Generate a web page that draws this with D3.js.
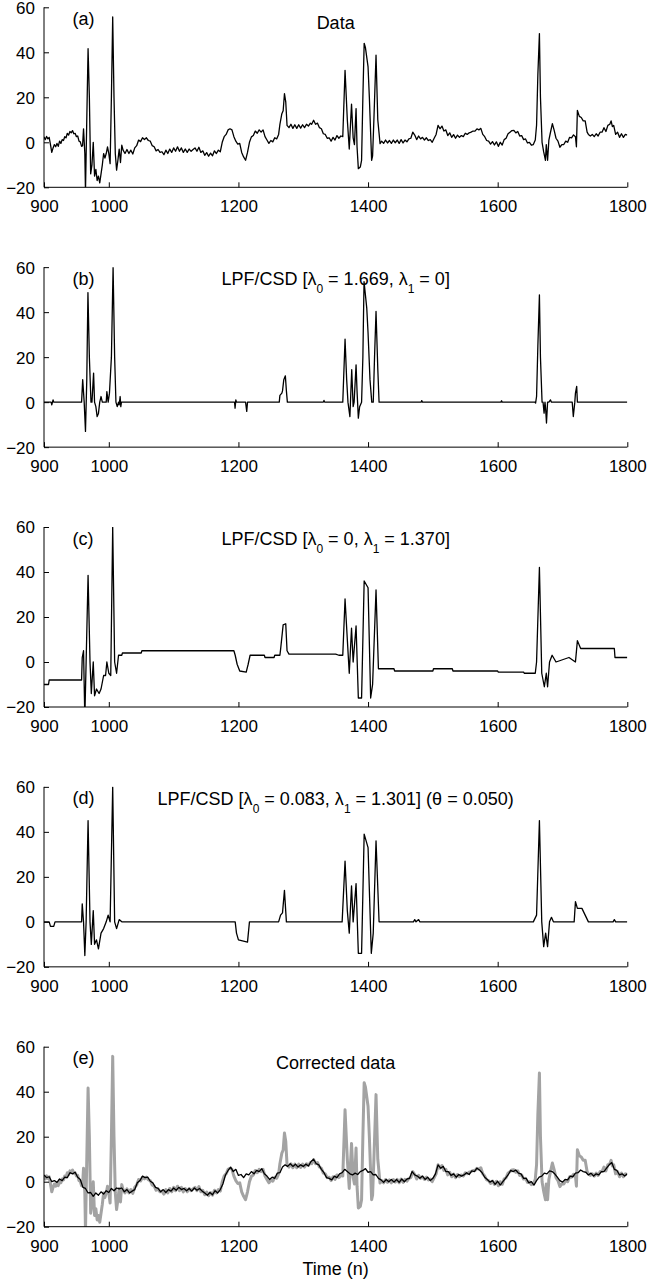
<!DOCTYPE html>
<html>
<head>
<meta charset="utf-8">
<script src="https://cdn.jsdelivr.net/npm/d3@7"></script>
<style>
  body { margin: 0; background: #fff; }
  text { font-family: "Liberation Sans", Arial, Helvetica, sans-serif; }
</style>
</head>
<body>
<div id="chart"></div>
<script>
// tick values
var x_ticks = [900, 1000, 1200, 1400, 1600, 1800]
var y_ticks = [-20, 0, 20, 40, 60]

// (a) raw data, [n, value]
var data_raw = [[900,2.4],[902,1.2],[904,2.6],[906,1.5],[908,2.2],[910,-1],[912,-4.5],[914,-2.5],[916,-1],[918,-2],
 [920,-0.5],[922,-1.8],[924,0.5],[926,-0.5],[928,1.2],[930,0.8],[932,2.5],[934,2],[936,4],[938,3.2],[940,4.8],[942,4.2],
 [944,5.2],[946,3.8],[948,4],[950,2.5],[952,2.8],[954,0.5],[956,0.2],[958,-1.8],[959.5,-1.5],[961,6],[963,-5],[964,-22],
 [966,10],[968,41.6],[970,20],[972,-14],[974,-10],[976,0],[978,-15],[980,-12],[982,-17],[984,-15],[986,-18],[988,-14],
 [990,-10],[992,-5],[994,-7],[996,-5],[998,-2],[1000,-5],[1002,-9.5],[1004,20],[1006,55.7],[1008,20],[1010,-5],
 [1012,-12.4],[1014,-8],[1016,-3],[1018,-9],[1020,-1.3],[1022,-3.5],[1025,-5],[1028,-3.2],[1031,-5],[1034,-3.5],
 [1037,-5.2],[1040,-2.5],[1043,-1.5],[1046,1],[1049,0.3],[1052,2],[1055,1.2],[1058,2],[1061,0.8],[1064,0.5],[1067,-1.5],
 [1070,-2],[1073,-3.8],[1076,-3.2],[1079,-4.5],[1082,-4.2],[1085,-5.5],[1088,-3.5],[1091,-5],[1094,-3],[1097,-4.5],
 [1100,-2.5],[1103,-4],[1106,-2],[1109,-4],[1112,-2.5],[1115,-4.5],[1118,-3],[1121,-4.5],[1124,-3],[1127,-4],[1130,-3.2],
 [1133,-2.5],[1136,-4],[1139,-2.2],[1142,-4.5],[1145,-3.8],[1148,-5.8],[1151,-4.6],[1154,-6.2],[1157,-4.8],[1160,-6],
 [1163,-3.8],[1166,-5],[1169,-3.5],[1172,-4.2],[1175,0],[1178,2.5],[1181,3.5],[1184,5.5],[1187,6],[1190,5.5],[1193,2.5],
 [1196,0.5],[1199,-0.8],[1202,-0.5],[1205,-4.5],[1208,-6.5],[1211,-8],[1214,-4.5],[1217,0],[1220,2.4],[1223,3],[1226,5],
 [1229,4],[1232,5.5],[1235,4.5],[1238,5.5],[1241,2.5],[1244,1],[1247,-0.5],[1250,0.8],[1253,0.2],[1256,2],[1259,1.5],
 [1262,3.5],[1264,8],[1267,12.7],[1269,14],[1271,21.6],[1273,18],[1275,7.5],[1278,6.5],[1281,8],[1284,6.2],[1287,7.8],
 [1290,6.2],[1293,7.8],[1296,6.3],[1299,7.8],[1302,6.5],[1305,8],[1308,7.2],[1311,8.5],[1313,8],[1316,9.8],[1319,8],
 [1322,8.5],[1325,6.5],[1328,6],[1331,3.8],[1334,3.5],[1337,1.8],[1340,2],[1343,0.5],[1346,2.2],[1349,1],[1352,3],
 [1355,1.8],[1358,2.8],[1361,2.5],[1364.5,32],[1368,10],[1371,-3],[1374.5,17],[1377,2],[1379,-1],[1381.5,15],[1383,-2],
 [1385,-11.7],[1388,-11],[1390,-8],[1392,20],[1394,44],[1396,42],[1400,33.5],[1402,20],[1405.5,-8],[1407,-6],[1409,10],
 [1412.3,38.7],[1415,10],[1418.5,-0.6],[1421,0.5],[1424,-0.5],[1427,1],[1430,-0.3],[1433,0.8],[1436,-0.5],[1439,1],
 [1442,-0.2],[1445,1],[1448,-0.5],[1451,1.2],[1454,-0.3],[1457,1],[1460,0.2],[1463,1.5],[1466,1.8],[1469,4.5],[1472,3.2],
 [1475,1.2],[1478,2.8],[1481,1.5],[1484,2.2],[1487,1],[1490,2],[1493,0.8],[1496,1.2],[1499,0],[1502,1.8],[1505,3.5],
 [1508,7.5],[1511,6],[1514,7.2],[1517,5],[1520,5.5],[1523,3],[1526,4.2],[1529,2.2],[1532,3.4],[1535,1.8],[1538,3.2],
 [1541,2.2],[1544,3],[1547,2.5],[1550,4],[1553,3.5],[1556,4.2],[1559,4.5],[1562,5],[1565,5],[1568,6],[1571,5.5],
 [1574,6.2],[1577,3.5],[1580,2.5],[1583,0.8],[1586,0.5],[1589,-0.8],[1592,0.3],[1595,-1.2],[1598,0.2],[1601,-1.8],
 [1604,0],[1607,-1.2],[1610,1.2],[1613,1.8],[1616,3.8],[1619,4.5],[1622,5.2],[1625,5.3],[1628,4.2],[1631,4.8],[1634,2.8],
 [1637,3],[1640,1.2],[1643,1.5],[1646,-0.3],[1649,0],[1652,-1.3],[1655,-1],[1658,1],[1660,7.6],[1662,30],[1664.4,48.3],
 [1666,20],[1668.5,0],[1671,-4.3],[1673.7,-8],[1675,-1],[1677,-8],[1679,1],[1681,3.8],[1684.4,8.3],[1687,5.5],[1690,1.8],
 [1693,0.5],[1696,-2.2],[1699,-1],[1702,-1],[1705,0.5],[1708,0],[1711,2.2],[1714,2],[1717,3.3],[1720,2.5],[1721.5,-2],
 [1723,14.2],[1726,11.5],[1729,11],[1732,9.5],[1735,9.5],[1738,4.5],[1740,3.5],[1743,2.8],[1746,3.5],[1749,2.5],
 [1752,3.8],[1755,2.8],[1758,4.5],[1761,4.5],[1764,6.5],[1767,4.8],[1770,7.5],[1773,8],[1775,9.5],[1777,7],[1779,7.5],
 [1782,3.5],[1785,4.5],[1788,2.2],[1791,3.8],[1794,2.2],[1797,3.5],[1800,3.2]]

// (b) LPF/CSD, lambda1 = 0
var data_b = [[900,0],[911,0],[912,-1.2],[914,1],[915,0],[958,0],[959.7,10],[962,0],[964,-13],[966,10],[967.8,48.7],
 [970,20],[972.5,0],[974,0],[976.5,12.9],[978,0],[980,-2],[982,-6.4],[984,-5],[986,0],[988,2.5],[990,0],[996,0],
 [997,4.7],[999,0],[1001,4],[1004,20],[1006.6,60],[1009,20],[1011,0],[1013,-2],[1015,0],[1016,-1.2],[1017.5,2.5],
 [1018.5,-2],[1019.5,0],[1194,0],[1194.8,-2.7],[1196,1],[1197,0],[1211,0],[1212.8,-4.1],[1214,0],[1263,0],[1264,3],
 [1267,4],[1268,5],[1270,10],[1272.4,11.7],[1274,5],[1275.5,0],[1331,0],[1332,0.8],[1333,0],[1361,0],[1364.5,28],
 [1367,10],[1369,0],[1372,-6.4],[1374.8,14.4],[1377,-2],[1378.5,0],[1381.5,16.6],[1383,5],[1385,-7.1],[1387,-2],
 [1390,0],[1392,20],[1393.8,53.6],[1398,41.8],[1400,30.7],[1403,10],[1405.7,0],[1408,0],[1410,20],[1412.3,40.3],
 [1415,15],[1417,0],[1482,0],[1482.8,0.7],[1484,0],[1605,0],[1606,0.6],[1607,0],[1657.6,0],[1658.5,-0.4],[1660,2.5],
 [1662,25],[1664.4,47.7],[1666,20],[1668.5,0],[1670,0],[1671.6,-4.9],[1673,0],[1674,-3],[1675.3,-9.3],[1677,0],
 [1679,0],[1681.5,1],[1683,0],[1715,0],[1716.7,-6.4],[1719,0],[1720,4],[1721.9,7],[1723,0],[1800,0]]

// (c) LPF/CSD, lambda0 = 0
var data_c = [[900,-10],[907,-10],[908,-8],[958,-8],[959,2],[961,5],[963,-25],[965,0],[968,38.5],[971,0],[973,-14],
 [976,0],[978,-15],[981,-12],[985,-14],[988,-12],[992,-6],[995,-6],[997,0],[1000,-5],[1003,-6],[1006,60],[1009,0],
 [1012,-5],[1015,3],[1020,3],[1021,4],[1050,4],[1051,5],[1193,5],[1195,3],[1198,-1],[1202,-4],[1212,-4.5],[1215,-1],
 [1218,3],[1240,3],[1241,2],[1255,2],[1256,3],[1264,3],[1265,5.5],[1269,16.5],[1273,17],[1275,5],[1278,3.5],[1350,3.5],
 [1355,3],[1361,3],[1364.5,28],[1368,10],[1371,-5],[1374.5,15],[1377,0],[1381.5,16],[1385,-16],[1390,-16],[1394,36],
 [1400,33],[1404,-16],[1407,-10],[1412.3,32],[1416,-3],[1440,-3],[1441,-4],[1500,-4],[1501,-3],[1530,-3],[1531,-4],
 [1600,-4],[1601,-4.5],[1640,-4.5],[1641,-5],[1658,-5],[1660,0],[1664.4,42],[1668,-5],[1672,-11],[1675,-5],[1677,-11],
 [1680,0],[1684,3],[1690,0],[1700,1],[1710,2],[1720,0],[1723,9.5],[1728,6],[1780,6],[1781,2],[1800,2]]

// (d) LPF/CSD, both lambdas
var data_d = [[900,0],[908,0],[910,-2],[915,-2],[917,0],[958,0],[959,8],[961,0],[963,-15],[965,0],[968,45],[971,0],
 [973,-10],[976,5],[978,-10],[981,-8],[984,-12],[988,-5],[992,-3],[996,0],[999,3],[1002,0],[1006,60],[1009,0],
 [1012,-3],[1016,1],[1020,0],[1195,0],[1197,-5],[1200,-8],[1214,-9],[1217,0],[1262,0],[1265,3],[1268,4],[1271,14],
 [1274,0],[1360,0],[1364.5,27],[1368,5],[1371,-5],[1374.5,16],[1377,0],[1381.5,17],[1385,-14],[1390,-14],[1394,39],
 [1400,33],[1405,-14],[1408,-5],[1412.3,36],[1417,0],[1470,0],[1472,1],[1474,0],[1478,1],[1480,0],[1655,0],[1660,3],
 [1664.4,45],[1668,0],[1671,-11],[1674,-5],[1677,-11],[1680,0],[1683,2],[1686,0],[1718,0],[1720,9],[1723,6],[1730,6],
 [1740,0],[1778,0],[1780,1],[1782,0],[1800,0]]

// (e) corrected data
var data_corr = [[900,3],[904,1.8],[908,2.2],[912,0],[916,0.5],[920,-0.3],[924,1.2],[928,0.5],[932,2],[936,1.8],
 [940,4],[944,3.5],[948,4.2],[952,2],[956,1],[960,-2.5],[964,-3],[968,-5],[972,-4.8],[976,-6.5],[980,-5],[984,-6],
 [988,-4.5],[992,-5.5],[996,-4],[1000,-4.8],[1004,-3],[1008,-4],[1012,-2.8],[1016,-3.2],[1020,-2.8],[1024,-4.5],
 [1028,-3.5],[1032,-5],[1036,-4.2],[1040,-3.5],[1044,-0.5],[1048,0.5],[1052,2.5],[1056,1.8],[1060,2],[1064,0.2],
 [1068,-0.5],[1072,-2.5],[1076,-3],[1080,-4.5],[1084,-3.5],[1088,-4.8],[1092,-3.5],[1096,-4.2],[1100,-2.8],[1104,-3.8],
 [1108,-2.5],[1112,-3.5],[1116,-3],[1120,-4],[1124,-3],[1128,-4.2],[1132,-2.8],[1136,-3.8],[1140,-3],[1144,-4.2],
 [1148,-5],[1152,-6],[1156,-4.8],[1160,-5.8],[1164,-4],[1168,-5],[1172,-3.5],[1176,-1],[1180,3],[1184,5],[1188,6.5],
 [1192,4.5],[1196,5.5],[1200,2.8],[1204,3.2],[1208,1.8],[1212,3.5],[1216,3],[1220,4.5],[1224,3.5],[1228,5],[1232,4.5],
 [1236,5.8],[1240,3.5],[1244,2.5],[1248,1],[1252,2],[1256,1.5],[1260,3.8],[1264,4],[1268,6.5],[1272,7.5],[1276,6.8],
 [1280,8],[1284,6.8],[1288,7.8],[1292,6.5],[1296,7.5],[1300,6.8],[1304,7.8],[1308,7],[1312,9],[1316,10],[1320,8],
 [1324,7.5],[1328,5.5],[1332,4],[1336,1.8],[1340,1.5],[1344,0.8],[1348,2.5],[1352,1.8],[1356,3.5],[1360,4],[1364,5.5],
 [1368,4.5],[1372,3.5],[1376,3],[1380,3.8],[1384,3.2],[1388,4.5],[1392,5],[1396,5.8],[1400,4.2],[1404,4.5],[1408,3],
 [1412,3.2],[1416,1.5],[1420,0.8],[1424,-0.3],[1428,1],[1432,0],[1436,1],[1440,-0.2],[1444,1],[1448,-0.3],[1452,1.2],
 [1456,0],[1460,1.2],[1464,1.5],[1468,4.5],[1472,3],[1476,2.5],[1480,1.5],[1484,2.5],[1488,1],[1492,2],[1496,0.5],
 [1500,1.5],[1504,3.5],[1508,7.5],[1512,6],[1516,6.8],[1520,4.5],[1524,4.5],[1528,2.8],[1532,3.5],[1536,2],[1540,3.2],
 [1544,2.5],[1548,3],[1552,4],[1556,3.2],[1560,4.8],[1564,4.5],[1568,6],[1572,5.2],[1576,4],[1580,2],[1584,1],
 [1588,-0.2],[1592,0.5],[1596,-1.2],[1600,0.2],[1604,-1.5],[1608,0],[1612,1.5],[1616,3],[1620,5],[1624,4.5],[1628,5.2],
 [1632,3.8],[1636,3.5],[1640,1.5],[1644,1.5],[1648,-0.5],[1652,0],[1656,-1.5],[1660,0.5],[1664,2],[1668,2.5],
 [1672,3.8],[1676,3.5],[1680,4.8],[1684,4.5],[1688,3.5],[1692,2],[1696,0.5],[1700,-0.2],[1704,1],[1708,0.8],[1712,2.5],
 [1716,2.2],[1720,3.8],[1724,4],[1728,5.2],[1732,4.5],[1736,4.2],[1740,3],[1744,3.8],[1748,2.5],[1752,3.5],[1756,3],
 [1760,4.5],[1764,4.5],[1768,6],[1772,7.5],[1776,8.5],[1780,5.5],[1784,5],[1788,3],[1792,3.5],[1796,2.5],[1800,3.5]]

// panel titles: [text, is_subscript]
var title_a = [["Data", false]]
var title_b = [["LPF/CSD [\u03bb", false], ["0", true], [" = 1.669, \u03bb", false], ["1", true], [" = 0]", false]]
var title_c = [["LPF/CSD [\u03bb", false], ["0", true], [" = 0, \u03bb", false], ["1", true], [" = 1.370]", false]]
var title_d = [["LPF/CSD [\u03bb", false], ["0", true], [" = 0.083, \u03bb", false], ["1", true], [" = 1.301] (\u03b8 = 0.050)", false]]
var title_e = [["Corrected data", false]]

var width = 649,
    height = 1282

var plot_left = 44,
    plot_right = 627.3,
    plot_height = 180,
    first_top = 7.3,
    panel_step = 259.85

var svg = d3.select("#chart")
    .append("svg")
    .attr("width", width)
    .attr("height", height)

var x = d3.scaleLinear().domain([900, 1800]).range([plot_left, plot_right])

function draw_panel(index, label, title, title_dy, lines) {
    var top = first_top + index * panel_step
    var y = d3.scaleLinear().domain([-20, 60]).range([top + plot_height, top])
    var g = svg.append("g")

    g.append("clipPath")
        .attr("id", "clip" + index)
        .append("rect")
        .attr("x", plot_left)
        .attr("y", top)
        .attr("width", plot_right - plot_left)
        .attr("height", plot_height)

    var line = d3.line()
        .x(function(d) { return x(d[0]) })
        .y(function(d) { return y(d[1]) })

    lines.forEach(function(l) {
        g.append("path")
            .attr("d", line(l.data))
            .attr("clip-path", "url(#clip" + index + ")")
            .attr("fill", "none")
            .attr("stroke", l.color)
            .attr("stroke-width", l.width)
            .attr("stroke-linejoin", "round")
    })

    // axes: ticks point inward
    var x_axis = d3.axisBottom(x).tickValues(x_ticks).tickSize(-5).tickPadding(9).tickFormat(d3.format("d"))
    var y_axis = d3.axisLeft(y).tickValues(y_ticks).tickSize(-5).tickPadding(9).tickFormat(function(d) { return d < 0 ? "\u2212" + (-d) : d })

    var gx = g.append("g").attr("transform", "translate(0," + (top + plot_height) + ")").call(x_axis)
    var gy = g.append("g").attr("transform", "translate(" + plot_left + ",0)").call(y_axis)
    ;[gx, gy].forEach(function(a) {
        a.select(".domain").attr("d", null)
        a.selectAll("line").attr("stroke", "#000").attr("stroke-width", 1)
        a.selectAll("text").attr("fill", "#000").style("font-size", "17px")
    })
    gx.selectAll("text").attr("dy", null).attr("y", 25)
    gy.selectAll("text").attr("dy", "0.35em")

    // axis lines (left + bottom only)
    g.append("path")
        .attr("d", "M" + plot_left + "," + top + "V" + (top + plot_height) + "H" + plot_right)
        .attr("fill", "none")
        .attr("stroke", "#000")
        .attr("stroke-width", 1)

    g.append("text")
        .attr("x", 72.5)
        .attr("y", top + 17.5)
        .style("font-size", "18px")
        .text(label)

    var t = g.append("text")
        .attr("x", (plot_left + plot_right) / 2)
        .attr("y", top + title_dy)
        .attr("text-anchor", "middle")
        .style("font-size", "18px")
    var shifted = false
    title.forEach(function(p) {
        var s = t.append("tspan").text(p[0])
        if (p[1]) { s.attr("dy", 8).style("font-size", "12px"); shifted = true }
        else if (shifted) { s.attr("dy", -8); shifted = false }
    })
}

draw_panel(0, "(a)", title_a, 22, [{data: data_raw, color: "#000", width: 1.3}])
draw_panel(1, "(b)", title_b, 18, [{data: data_b, color: "#000", width: 1.3}])
draw_panel(2, "(c)", title_c, 18, [{data: data_c, color: "#000", width: 1.3}])
draw_panel(3, "(d)", title_d, 18, [{data: data_d, color: "#000", width: 1.3}])
draw_panel(4, "(e)", title_e, 22, [{data: data_raw, color: "#a3a3a3", width: 3}, {data: data_corr, color: "#000", width: 1.3}])

svg.append("text")
    .attr("x", (plot_left + plot_right) / 2)
    .attr("y", 1275)
    .attr("text-anchor", "middle")
    .style("font-size", "18px")
    .text("Time (n)")
</script>
</body>
</html>
